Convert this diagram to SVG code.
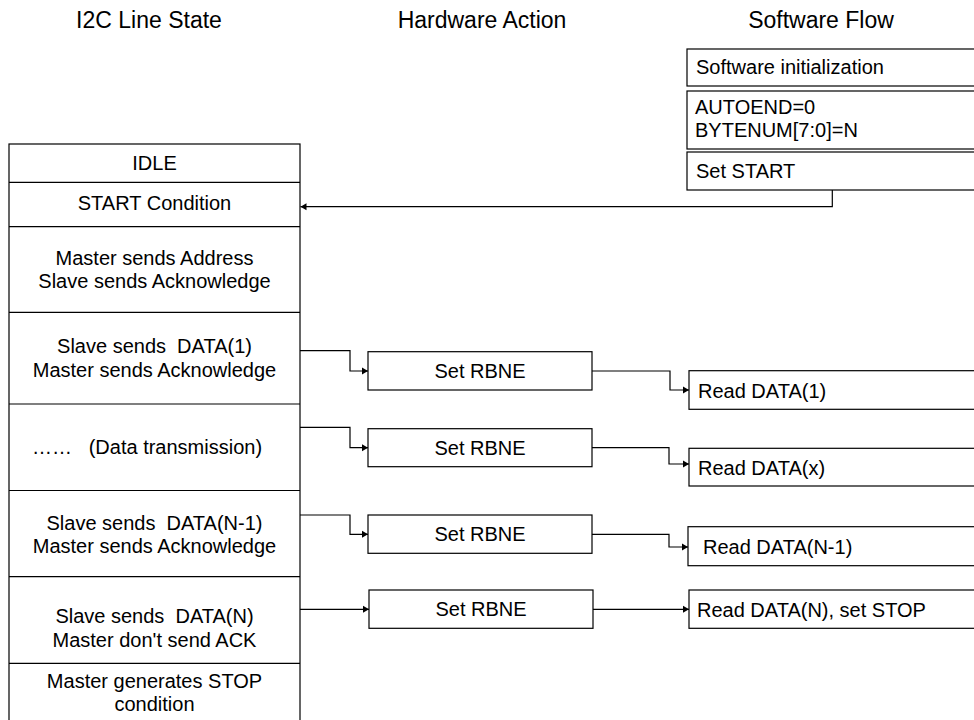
<svg xmlns="http://www.w3.org/2000/svg" width="974" height="720" viewBox="0 0 974 720">
<defs>
<style>
.box{fill:#fff;stroke:#000;stroke-width:1.2}
.t{font-family:"Liberation Sans",Arial,sans-serif;font-size:20px;fill:#000}
.c{text-anchor:middle}
.h{font-family:"Liberation Sans",Arial,sans-serif;font-size:23px;fill:#000;text-anchor:middle}
.conn{fill:none;stroke:#000;stroke-width:1.2;marker-end:url(#arr)}
</style>
<marker id="arr" markerUnits="userSpaceOnUse" markerWidth="7" markerHeight="8" refX="6" refY="4" orient="auto">
<path d="M0,0.5 L6,4 L0,7.5 Z" fill="#000"/>
</marker>
</defs>
<rect width="974" height="720" fill="#fff"/>

<g id="headers">
<text class="h" x="149" y="28">I2C Line State</text>
<text class="h" x="482" y="28">Hardware Action</text>
<text class="h" x="821" y="28">Software Flow</text>
</g>

<g id="line-state">
<rect class="box" x="9" y="144" width="291" height="590"/>
<path d="M9,182.3H300M9,226.7H300M9,312.3H300M9,404H300M9,490.5H300M9,576.7H300M9,663.3H300" stroke="#000" stroke-width="1.2" fill="none"/>
<text class="t c" x="154.5" y="170">IDLE</text>
<text class="t c" x="154.5" y="210">START Condition</text>
<text class="t c" x="154.5" y="265">Master sends Address</text>
<text class="t c" x="154.5" y="288">Slave sends Acknowledge</text>
<text class="t c" x="154.5" y="353" xml:space="preserve">Slave sends  DATA(1)</text>
<text class="t c" x="154.5" y="377">Master sends Acknowledge</text>
<text class="t" x="32" y="454" xml:space="preserve">……   (Data transmission)</text>
<text class="t c" x="154.5" y="530" xml:space="preserve">Slave sends  DATA(N-1)</text>
<text class="t c" x="154.5" y="553">Master sends Acknowledge</text>
<text class="t c" x="154.5" y="623" xml:space="preserve">Slave sends  DATA(N)</text>
<text class="t c" x="154.5" y="647">Master don't send ACK</text>
<text class="t c" x="154.5" y="688">Master generates STOP</text>
<text class="t c" x="154.5" y="711">condition</text>
</g>

<g id="sw-init">
<rect class="box" x="687" y="49" width="300" height="37"/>
<text class="t" x="696" y="74">Software initialization</text>
</g>
<g id="sw-config">
<rect class="box" x="687" y="91" width="300" height="58"/>
<text class="t" x="695" y="114">AUTOEND=0</text>
<text class="t" x="695" y="137">BYTENUM[7:0]=N</text>
</g>
<g id="sw-start">
<rect class="box" x="687" y="152" width="300" height="38"/>
<text class="t" x="696" y="178">Set START</text>
</g>

<g id="hw-rbne1">
<rect class="box" x="368" y="351.7" width="224" height="38.3"/>
<text class="t c" x="480" y="378">Set RBNE</text>
</g>
<g id="hw-rbne2">
<rect class="box" x="368" y="428.7" width="224" height="38"/>
<text class="t c" x="480" y="455">Set RBNE</text>
</g>
<g id="hw-rbne3">
<rect class="box" x="368" y="515" width="224" height="38.3"/>
<text class="t c" x="480" y="541">Set RBNE</text>
</g>
<g id="hw-rbne4">
<rect class="box" x="369" y="590" width="224" height="38.3"/>
<text class="t c" x="481" y="616">Set RBNE</text>
</g>

<g id="sw-read1">
<rect class="box" x="689" y="370.7" width="300" height="38.6"/>
<text class="t" x="698" y="398">Read DATA(1)</text>
</g>
<g id="sw-readx">
<rect class="box" x="689" y="448.3" width="300" height="37.7"/>
<text class="t" x="698" y="475">Read DATA(x)</text>
</g>
<g id="sw-readn1">
<rect class="box" x="688" y="526.7" width="300" height="39"/>
<text class="t" x="703" y="554">Read DATA(N-1)</text>
</g>
<g id="sw-readn">
<rect class="box" x="689" y="590" width="300" height="38.3"/>
<text class="t" x="697" y="617">Read DATA(N), set STOP</text>
</g>

<g id="connectors">
<path class="conn" d="M832.3,190V206.7H300.5"/>
<path class="conn" d="M300,350.7H350V371H368"/>
<path class="conn" d="M592,371H670V390H689"/>
<path class="conn" d="M300,427.3H350V447.7H368"/>
<path class="conn" d="M592,447.7H669V464H689"/>
<path class="conn" d="M300,515H350V534.3H368"/>
<path class="conn" d="M592,534.3H669V547H688"/>
<path class="conn" d="M300,609.3H369"/>
<path class="conn" d="M593,609.3H689"/>
</g>
</svg>
